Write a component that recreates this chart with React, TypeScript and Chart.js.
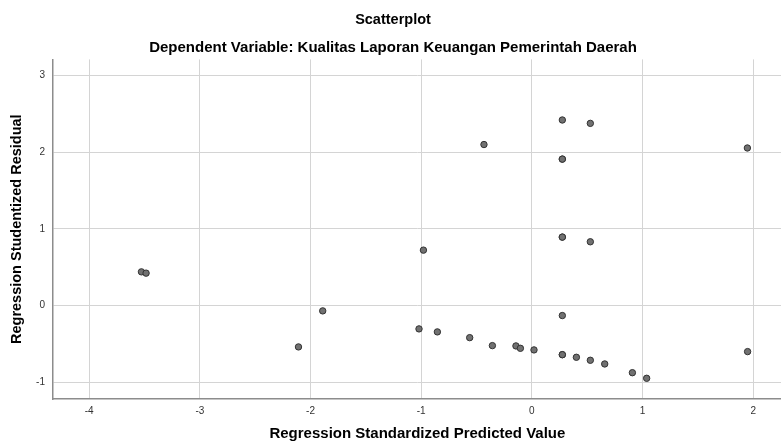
import React, { useEffect, useRef } from "react";
import { Chart, registerables } from "chart.js";

Chart.register(...registerables);

const chartTitle = "Scatterplot";
const chartSubtitle = "Dependent Variable: Kualitas Laporan Keuangan Pemerintah Daerah";
const xAxisTitle = "Regression Standardized Predicted Value";
const yAxisTitle = "Regression Studentized Residual";

const xTicks = [-4, -3, -2, -1, 0, 1, 2];
const yTicks = [-1, 0, 1, 2, 3];

const predictedValues = [
  -3.528, -3.486, -2.109, -1.89, -1.02, -0.98, -0.854, -0.562, -0.433, -0.357,
  -0.144, -0.104, 0.019, 0.275, 0.275, 0.275, 0.275, 0.275, 0.275, 0.275,
  0.275, 0.402, 0.528, 0.528, 0.528, 0.658, 0.908, 1.037, 1.947, 1.949,
];
const residualValues = [
  0.44, 0.423, -0.539, -0.069, -0.304, 0.723, -0.343, -0.418, 2.1, -0.522,
  -0.526, -0.557, -0.578, 2.42, 1.91, 1.91, 0.893, 0.893, -0.13, -0.64,
  -0.64, -0.674, 2.376, 0.832, -0.713, -0.761, -0.875, -0.948, 2.055, -0.6,
];

const xMin = -4.327;
const xMax = 2.258;
const yMin = -1.218;
const yMax = 3.21;

export default function App() {
  const canvasRef = useRef<HTMLCanvasElement | null>(null);

  useEffect(() => {
    if (!canvasRef.current) return;
    const points = predictedValues.map((x, i) => ({ x, y: residualValues[i] }));
    const font = "'Liberation Sans', Arial, sans-serif";
    const chart = new Chart(canvasRef.current, {
      type: "scatter",
      data: {
        datasets: [
          {
            data: points,
            pointRadius: 3.2,
            pointBorderWidth: 1,
            pointBackgroundColor: "#717171",
            pointBorderColor: "#333333",
            pointHoverRadius: 3.2,
          },
        ],
      },
      options: {
        animation: false,
        responsive: true,
        maintainAspectRatio: false,
        layout: { padding: { top: 0, left: 0, right: 0, bottom: 0 } },
        plugins: {
          legend: { display: false },
          tooltip: { enabled: false },
          title: {
            display: true,
            text: chartTitle,
            color: "#000",
            font: { family: font, size: 14.5, weight: "bold" },
            padding: { top: 11, bottom: 5 },
          },
          subtitle: {
            display: true,
            text: chartSubtitle,
            color: "#000",
            font: { family: font, size: 15, weight: "bold" },
            padding: { top: 5, bottom: 3 },
          },
        },
        scales: {
          x: {
            type: "linear",
            min: xMin,
            max: xMax,
            afterBuildTicks: (s: any) => {
              s.ticks = xTicks.map((v) => ({ value: v }));
            },
            afterFit: (s: any) => {
              s.height = 42;
              s.paddingRight = 0;
              s.paddingLeft = 0;
            },
            grid: { color: "#d4d4d4", lineWidth: 1, drawTicks: false },
            border: { color: "#8c8c8c", width: 1.5 },
            ticks: {
              color: "#333",
              font: { family: font, size: 10 },
              padding: 6,
              autoSkip: false,
              callback: (v: any) => String(v),
            },
            title: {
              display: true,
              text: xAxisTitle,
              color: "#000",
              font: { family: font, size: 15, weight: "bold", lineHeight: 1 },
              padding: { top: 0, bottom: 0 },
            },
          },
          y: {
            type: "linear",
            min: yMin,
            max: yMax,
            afterBuildTicks: (s: any) => {
              s.ticks = yTicks.map((v) => ({ value: v }));
            },
            afterFit: (s: any) => {
              s.width = 53;
            },
            grid: { color: "#d4d4d4", lineWidth: 1, drawTicks: false },
            border: { color: "#8c8c8c", width: 1.5 },
            ticks: {
              color: "#333",
              font: { family: font, size: 10 },
              padding: 8,
              autoSkip: false,
              callback: (v: any) => String(v),
            },
            title: {
              display: true,
              text: yAxisTitle,
              color: "#000",
              font: { family: font, size: 14.5, weight: "bold" },
              padding: { top: 8, bottom: 0 },
            },
          },
        },
      },
      plugins: [
        {
          id: "whiteBg",
          beforeDraw: (c: any) => {
            const ctx = c.ctx;
            ctx.save();
            ctx.fillStyle = "#ffffff";
            ctx.fillRect(0, 0, c.width, c.height);
            ctx.restore();
          },
        },
      ],
    });
    return () => chart.destroy();
  }, []);

  return (
    <div
      style={{
        position: "fixed",
        left: 0,
        top: 0,
        width: 781,
        height: 441,
        overflow: "hidden",
        background: "#fff",
      }}
    >
      <div style={{ width: 786, height: 441 }}>
        <canvas ref={canvasRef} />
      </div>
    </div>
  );
}
